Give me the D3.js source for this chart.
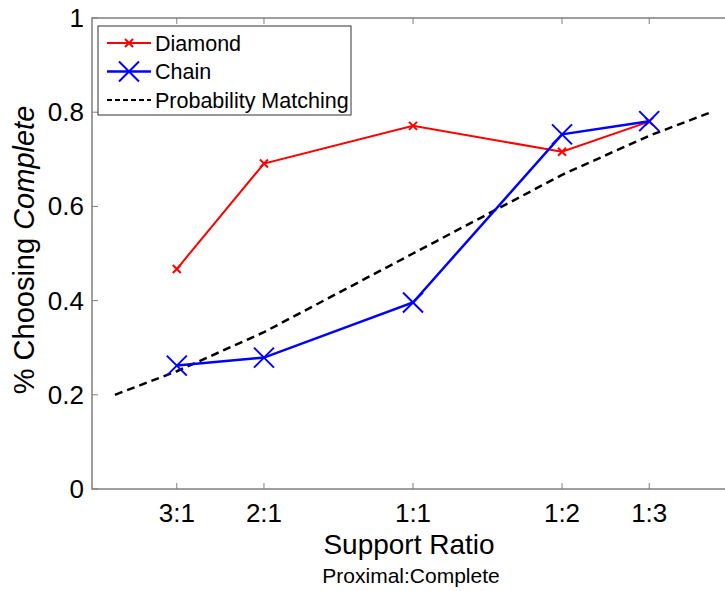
<!DOCTYPE html>
<html lang="en">
<head>
<meta charset="utf-8">
<title>Support Ratio</title>
<style>
  body { margin: 0; background: #fff; }
  svg { display: block; font-family: "Liberation Sans", Arial, sans-serif; }
  .tick-label { font-size: 26px; fill: #000; }
  .legend text { font-size: 21.5px; }
</style>
</head>
<body>
<svg id="chart" width="725" height="591"></svg>
<script src="https://d3js.org/d3.v7.min.js"></script>
<script>
// ratios Proximal:Complete, x position is log2(complete / proximal)
var ratioLabels = ["3:1", "2:1", "1:1", "1:2", "1:3"];
var ratioX = [-1.585, -1, 0, 1, 1.585];
var diamond = [0.467, 0.691, 0.771, 0.716, 0.780];
var chain = [0.262, 0.279, 0.396, 0.753, 0.781];
// probability matching, from 4:1 to 1:4
var matchX = [-2, -1.585, -1, 0, 1, 1.585, 2];
var matchY = [0.2, 0.25, 0.333, 0.5, 0.667, 0.75, 0.8];
var yTicks = [0, 0.2, 0.4, 0.6, 0.8, 1];

var svg = d3.select("#chart");
var plotL = 92, plotR = 734, plotT = 18, plotB = 489;
var gray = "#7f7f7f";

var x = d3.scaleLinear().domain([-2.154, 2.154]).range([plotL, plotR]);
var y = d3.scaleLinear().domain([0, 1]).range([plotB, plotT]);

// axes box
svg.append("rect")
    .attr("x", plotL).attr("y", plotT)
    .attr("width", plotR - plotL).attr("height", plotB - plotT)
    .attr("fill", "none").attr("stroke", gray).attr("stroke-width", 1.5);

// y ticks (inward, both sides)
var yt = svg.append("g");
yTicks.forEach(function(v) {
  yt.append("line").attr("x1", plotL).attr("x2", plotL + 6)
    .attr("y1", y(v)).attr("y2", y(v)).attr("stroke", gray);
  yt.append("line").attr("x1", plotR).attr("x2", plotR - 6)
    .attr("y1", y(v)).attr("y2", y(v)).attr("stroke", gray);
  yt.append("text").attr("class", "tick-label")
    .attr("x", plotL - 8).attr("y", y(v) + 9)
    .attr("text-anchor", "end")
    .text(d3.format("~g")(v));
});

// x ticks
var xt = svg.append("g");
ratioX.forEach(function(v, i) {
  xt.append("line").attr("x1", x(v)).attr("x2", x(v))
    .attr("y1", plotB).attr("y2", plotB - 6).attr("stroke", gray);
  xt.append("line").attr("x1", x(v)).attr("x2", x(v))
    .attr("y1", plotT).attr("y2", plotT + 6).attr("stroke", gray);
  xt.append("text").attr("class", "tick-label")
    .attr("x", x(v)).attr("y", 522)
    .attr("text-anchor", "middle")
    .text(ratioLabels[i]);
});

// axis labels
svg.append("text").attr("x", 409).attr("y", 554)
  .attr("text-anchor", "middle").style("font-size", "28px")
  .text("Support Ratio");
svg.append("text").attr("x", 411).attr("y", 583)
  .attr("text-anchor", "middle").style("font-size", "21px")
  .text("Proximal:Complete");

var ylab = svg.append("text")
  .attr("transform", "translate(34,250) rotate(-90)")
  .attr("text-anchor", "middle").style("font-size", "29px");
ylab.append("tspan").text("% Choosing ");
ylab.append("tspan").style("font-style", "italic").text("Complete");

var line = d3.line()
  .x(function(d) { return x(d[0]); })
  .y(function(d) { return y(d[1]); });

// probability matching
svg.append("path")
  .datum(d3.zip(matchX, matchY))
  .attr("d", line)
  .attr("fill", "none").attr("stroke", "#000")
  .attr("stroke-width", 2.5).attr("stroke-dasharray", "8,5");

// diamond
svg.append("path")
  .datum(d3.zip(ratioX, diamond))
  .attr("d", line)
  .attr("fill", "none").attr("stroke", "#f00").attr("stroke-width", 2);

function cross(g, px, py, s, color, w) {
  g.append("path")
    .attr("d", "M" + (px - s) + "," + (py - s) + "L" + (px + s) + "," + (py + s) +
               "M" + (px - s) + "," + (py + s) + "L" + (px + s) + "," + (py - s))
    .attr("stroke", color).attr("stroke-width", w).attr("fill", "none");
}

var redMarks = svg.append("g");
ratioX.forEach(function(v, i) { cross(redMarks, x(v), y(diamond[i]), 4, "#f00", 2); });

// chain
svg.append("path")
  .datum(d3.zip(ratioX, chain))
  .attr("d", line)
  .attr("fill", "none").attr("stroke", "#00f").attr("stroke-width", 2.5);

var blueMarks = svg.append("g");
ratioX.forEach(function(v, i) { cross(blueMarks, x(v), y(chain[i]), 10, "#00f", 2); });

// legend
var lg = svg.append("g").attr("class", "legend");
lg.append("rect").attr("x", 98).attr("y", 26).attr("width", 253).attr("height", 89)
  .attr("fill", "#fff").attr("stroke", "#333").attr("stroke-width", 1);
var entries = [
  { name: "Diamond", color: "#f00", w: 2, dash: null, mark: 4 },
  { name: "Chain", color: "#00f", w: 2.5, dash: null, mark: 10 },
  { name: "Probability Matching", color: "#000", w: 2, dash: "5,3", mark: 0 }
];
entries.forEach(function(e, i) {
  var ly = 43 + i * 28.5;
  lg.append("line").attr("x1", 107).attr("x2", 151).attr("y1", ly).attr("y2", ly)
    .attr("stroke", e.color).attr("stroke-width", e.w)
    .attr("stroke-dasharray", e.dash);
  if (e.mark) cross(lg, 129, ly, e.mark, e.color, 2);
  lg.append("text").attr("x", 155).attr("y", ly + 7.5).text(e.name);
});
</script>
</body>
</html>
